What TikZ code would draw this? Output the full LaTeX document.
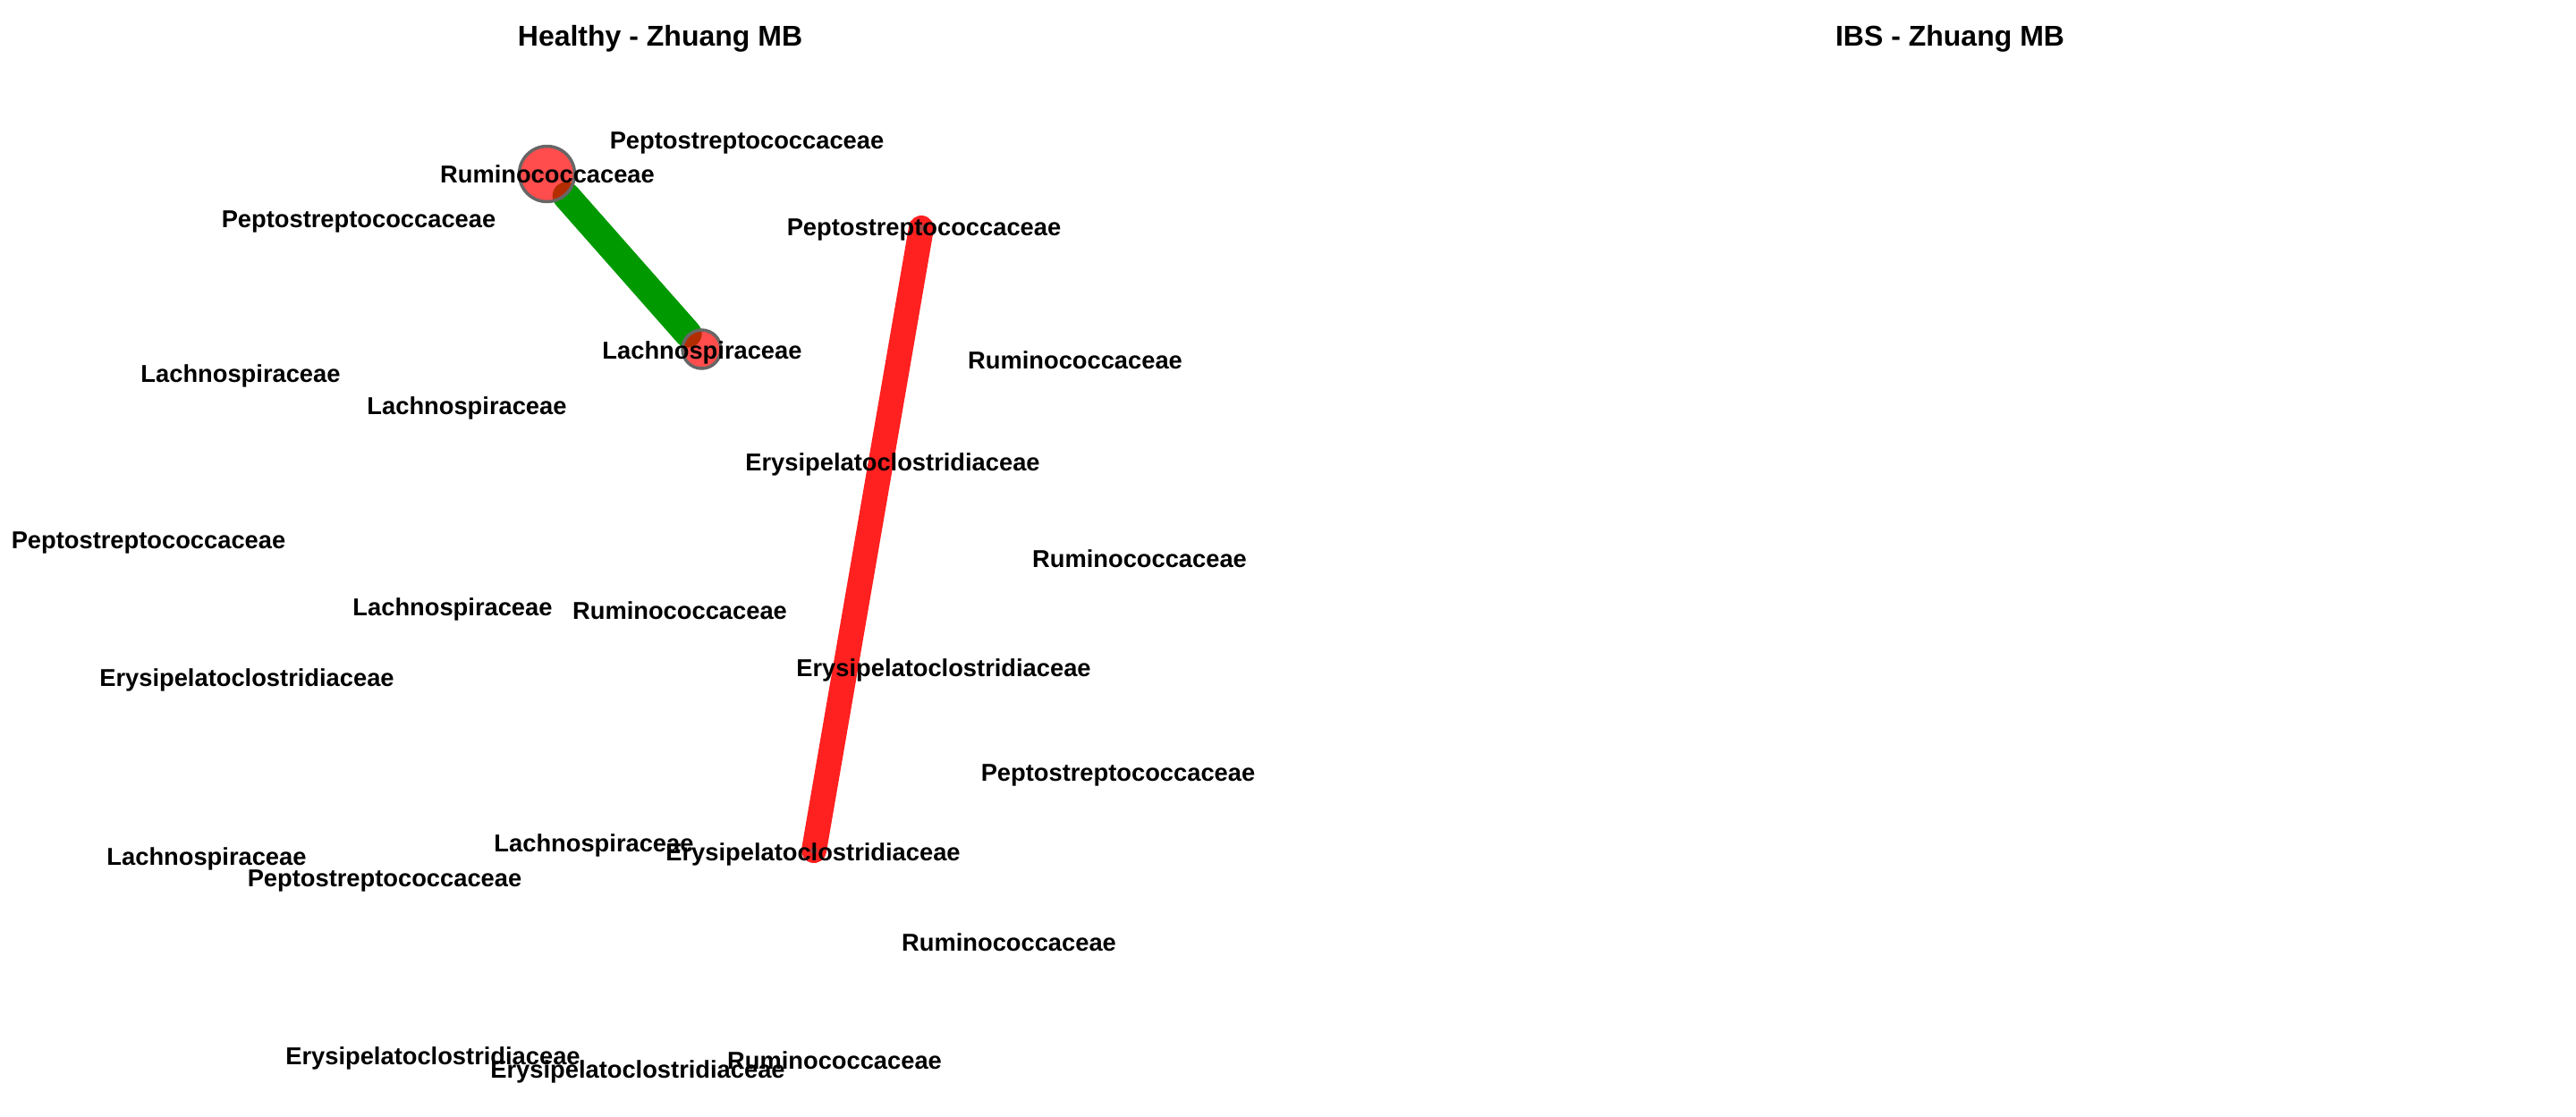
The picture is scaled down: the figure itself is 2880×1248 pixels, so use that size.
\documentclass[tikz,border=0pt]{standalone}
\usepackage{fontspec}
\setmainfont{Liberation Sans}
\begin{document}
\begin{tikzpicture}[x=1pt,y=-1pt,
  lbl/.style={anchor=base,inner sep=0pt,font=\fontsize{27.3}{30}\selectfont\bfseries},
  ttl/.style={anchor=base,inner sep=0pt,font=\fontsize{32}{36}\selectfont\bfseries},
  vshape/.style={circle,line width=3.5pt,inner sep=0pt},
  vtx/.style={vshape,draw=vgray,fill=red,fill opacity=0.7,draw opacity=1},
  dot/.style={circle,fill=vgray,fill opacity=0.55,inner sep=0pt,minimum size=8pt},
  posedge/.style={line width=31pt,draw=egreen,line cap=round},
  negedge/.style={line width=28pt,draw=ered,line cap=round}]
\definecolor{vgray}{HTML}{666666}
\definecolor{egreen}{HTML}{009900}
\definecolor{ered}{HTML}{FF2020}
\useasboundingbox (0,0) rectangle (2880,1248);
% titles
\node[ttl] (t1) at (738,51) {Healthy - Zhuang MB};
\node[ttl] (t2) at (2180,51) {IBS - Zhuang MB};
% vertex outlines (invisible, for edge end points)
\node[vshape,minimum size=62pt] (c2) at (611.5,194.5) {};
\node[vshape,minimum size=43pt] (c5) at (784.5,390.5) {};
\coordinate (d4) at (1030,255);
\coordinate (d18) at (910,951);
% edges
\draw[posedge] (c2) -- (c5);
\draw[negedge] (d4) -- (d18);
% visible vertices on top of the edges
\node[vtx,minimum size=62pt] (c2b) at (c2) {};
\node[vtx,minimum size=43pt] (c5b) at (c5) {};
\node[dot] (d4b) at (d4) {};
\node[dot] (d18b) at (d18) {};
% labels
\node[lbl] (v1) at (835,166) {Peptostreptococcaceae};
\node[lbl] (v2) at (612,204) {Ruminococcaceae};
\node[lbl] (v3) at (401,254) {Peptostreptococcaceae};
\node[lbl] (v4) at (1033,263) {Peptostreptococcaceae};
\node[lbl] (v5) at (785,401) {Lachnospiraceae};
\node[lbl] (v6) at (269,427) {Lachnospiraceae};
\node[lbl] (v7) at (1202,412) {Ruminococcaceae};
\node[lbl] (v8) at (522,463) {Lachnospiraceae};
\node[lbl] (v9) at (998,526) {Erysipelatoclostridiaceae};
\node[lbl] (v10) at (166,613) {Peptostreptococcaceae};
\node[lbl] (v11) at (1274,634) {Ruminococcaceae};
\node[lbl] (v12) at (506,688) {Lachnospiraceae};
\node[lbl] (v13) at (760,692) {Ruminococcaceae};
\node[lbl] (v14) at (276,767) {Erysipelatoclostridiaceae};
\node[lbl] (v15) at (1055,756) {Erysipelatoclostridiaceae};
\node[lbl] (v16) at (1250,873) {Peptostreptococcaceae};
\node[lbl] (v17) at (664,952) {Lachnospiraceae};
\node[lbl] (v18) at (909,962) {Erysipelatoclostridiaceae};
\node[lbl] (v19) at (231,967) {Lachnospiraceae};
\node[lbl] (v20) at (430,991) {Peptostreptococcaceae};
\node[lbl] (v21) at (1128,1063) {Ruminococcaceae};
\node[lbl] (v22) at (484,1190) {Erysipelatoclostridiaceae};
\node[lbl] (v23) at (713,1205) {Erysipelatoclostridiaceae};
\node[lbl] (v24) at (933,1195) {Ruminococcaceae};
\end{tikzpicture}
\end{document}
